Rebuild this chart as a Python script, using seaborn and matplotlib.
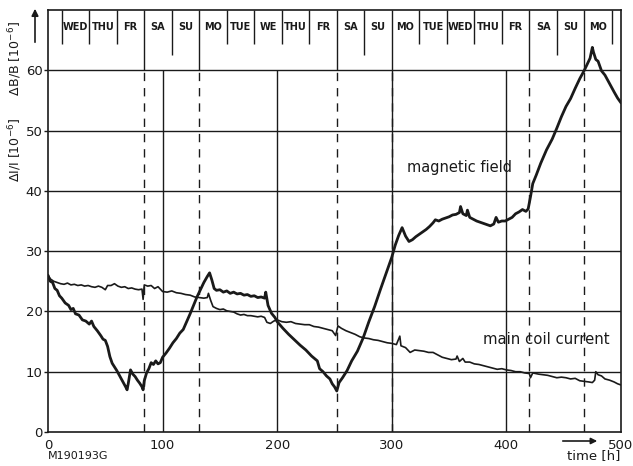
import numpy as np
import pandas as pd
import matplotlib
matplotlib.use("Agg")
import matplotlib.pyplot as plt
import seaborn as sns

# ---------------- data ----------------
field_t = [0, 2, 4, 6, 8, 10, 12, 15, 18, 20, 22, 24, 27, 30, 33, 36, 38, 40, 43, 46, 48, 50, 52, 54, 56,
           58, 60, 62, 64, 66, 68, 69, 70, 72, 74, 76, 78, 80, 82, 83, 84, 86, 88, 90, 92, 94, 96, 98,
           100, 103, 106, 109, 112, 115, 118, 121, 124, 127, 130, 133, 136, 139, 141, 143, 145, 147,
           150, 153, 156, 159, 162, 165, 168, 171, 174, 177, 180, 183, 186, 189, 190, 192, 195, 198,
           200, 205, 210, 215, 220, 225, 230, 235, 237, 240, 243, 246, 248, 250, 252, 254, 257, 261,
           265, 270, 275, 280, 285, 290, 295, 300, 303, 306, 309, 312, 315, 318, 321, 324, 327, 330,
           333, 336, 338, 341, 344, 347, 350, 353, 356, 359, 360, 362, 365, 366, 368, 371, 374, 377,
           380, 383, 386, 389, 391, 393, 396, 399, 402, 405, 408, 411, 414, 417, 419, 421, 423, 426,
           430, 435, 440, 444, 448, 452, 456, 460, 464, 468, 471, 473, 475, 476, 478, 480, 483, 486,
           490, 494, 497, 500]
field_v = [26.0, 25.0, 24.8, 23.8, 23.5, 22.6, 22.2, 21.4, 21.0, 20.3, 20.5, 19.6, 19.4, 18.6, 18.4, 17.9,
           18.4, 17.5, 16.8, 16.0, 15.4, 15.2, 14.2, 12.5, 11.4, 10.8, 10.2, 9.5, 8.8, 8.1, 7.4, 7.0,
           8.0, 10.3, 9.6, 9.2, 8.6, 8.1, 7.5, 7.0, 8.5, 9.8, 10.5, 11.5, 11.2, 11.8, 11.3, 11.5,
           12.4, 13.1, 13.9, 14.8, 15.5, 16.4, 17.0, 18.3, 19.6, 21.0, 22.4, 23.6, 24.8, 25.8, 26.4,
           25.2, 23.8, 23.5, 23.6, 23.2, 23.4, 23.0, 23.2, 22.9, 23.0, 22.7, 22.8, 22.5, 22.6, 22.3,
           22.4, 22.2, 23.2, 21.0, 19.7, 19.0, 18.3, 17.2, 16.2, 15.3, 14.4, 13.6, 12.6, 11.8, 10.5,
           10.0, 9.3, 8.8, 8.0, 7.5, 6.8, 8.2, 9.0, 10.2, 11.8, 13.4, 15.6, 18.3, 20.8, 23.6, 26.3,
           29.0, 31.0, 32.6, 33.9, 32.5, 31.6, 31.9, 32.4, 32.8, 33.2, 33.6, 34.1, 34.7, 35.2, 35.0,
           35.3, 35.5, 35.7, 36.0, 36.1, 36.4, 37.4, 36.2, 35.9, 36.8, 35.6, 35.3, 35.0, 34.8, 34.6,
           34.4, 34.2, 34.5, 35.6, 34.8, 35.0, 35.0, 35.3, 35.6, 36.2, 36.5, 36.9, 36.6, 37.0, 39.0,
           41.2, 42.6, 44.6, 46.8, 48.6, 50.4, 52.3, 54.0, 55.3, 57.0, 58.6, 60.0, 61.2, 62.0, 63.8,
           63.0, 61.8, 61.5, 59.9, 59.2, 57.8, 56.4, 55.4, 54.6]

coil_t = [0, 2, 5, 8, 11, 14, 17, 20, 23, 26, 29, 32, 35, 38, 41, 44, 47, 50, 52, 55, 58, 61, 64, 67, 70,
          73, 76, 79, 82, 83, 84, 87, 90, 93, 96, 98, 100, 104, 108, 112, 116, 120, 124, 128, 132, 136,
          139, 140, 142, 144, 147, 150, 153, 156, 159, 162, 165, 168, 171, 174, 177, 180, 183, 186, 189,
          191, 194, 197, 200, 204, 208, 212, 216, 220, 224, 228, 232, 236, 240, 244, 248, 251, 253, 256,
          260, 264, 268, 272, 276, 280, 284, 288, 292, 296, 300, 304, 307, 308, 312, 316, 320, 324, 328,
          332, 336, 340, 344, 348, 352, 356, 357, 359, 362, 364, 368, 372, 376, 380, 384, 388, 392, 396,
          400, 404, 408, 412, 416, 420, 421, 423, 428, 432, 436, 440, 444, 448, 452, 456, 460, 464, 468,
          472, 475, 477, 478, 480, 483, 486, 490, 494, 497, 500]
coil_v = [26.0, 25.4, 25.0, 24.8, 24.6, 24.5, 24.7, 24.4, 24.5, 24.3, 24.4, 24.2, 24.3, 24.1, 24.0, 24.2,
          24.0, 23.6, 24.3, 24.3, 24.6, 24.2, 24.0, 24.1, 23.8, 23.9, 23.7, 23.6, 23.7, 22.0, 24.4,
          24.2, 24.3, 23.8, 24.1, 23.7, 23.3, 23.2, 23.4, 23.1, 23.0, 22.8, 22.7, 22.4, 22.3, 22.2,
          22.3, 23.0, 21.8, 20.8, 20.5, 20.3, 20.4, 20.1, 20.0, 19.9, 19.6, 19.4, 19.5, 19.3, 19.3,
          19.2, 19.1, 19.2, 19.0, 18.2, 18.0, 18.4, 18.6, 18.3, 18.2, 18.3, 18.0, 17.9, 17.8, 17.8,
          17.5, 17.4, 17.2, 17.0, 16.8, 16.0, 17.6, 17.2, 16.8, 16.5, 16.2, 15.8, 15.6, 15.5, 15.3,
          15.2, 15.0, 14.8, 14.7, 14.5, 15.9, 14.3, 14.0, 13.2, 13.6, 13.5, 13.4, 13.2, 13.2, 12.8,
          12.4, 12.2, 12.0, 12.1, 12.6, 11.7, 12.2, 11.6, 11.6, 11.3, 11.2, 11.0, 10.8, 10.6, 10.4,
          10.5, 10.3, 10.2, 10.0, 10.0, 9.8, 9.7, 9.0, 9.8, 9.6, 9.5, 9.4, 9.2, 9.0, 9.1, 9.0, 8.8,
          8.9, 8.5, 8.4, 8.3, 8.2, 8.6, 10.0, 9.5, 9.3, 8.8, 8.6, 8.3, 8.0, 7.8]

day_labels = ["WED", "THU", "FR", "SA", "SU", "MO", "TUE", "WE", "THU", "FR",
              "SA", "SU", "MO", "TUE", "WED", "THU", "FR", "SA", "SU", "MO"]
day_starts = [12, 36, 60, 84, 108, 132, 156, 180, 204, 228,
              252, 276, 300, 324, 348, 372, 396, 420, 444, 468]
day_end = 492
weekend_lines = [84, 132, 252, 300, 420, 468]     # Saturday / Monday start
sunday_lines = [108, 276, 444]

x_ticks = [0, 100, 200, 300, 400, 500]
y_ticks = [0, 10, 20, 30, 40, 50, 60]

# ---------------- figure ----------------
sns.set_style("white")
plt.rcParams['font.family'] = ['DejaVu Sans']
ink = "#1a1a1a"

fig = plt.figure(figsize=(6.33, 4.66), dpi=100)
ax = fig.add_axes([48 / 633, 1 - 432 / 466, (621 - 48) / 633, (432 - 10) / 466])

df = pd.concat([
    pd.DataFrame({"t": field_t, "v": field_v, "s": "magnetic field"}),
    pd.DataFrame({"t": coil_t, "v": coil_v, "s": "main coil current"}),
])
sns.lineplot(data=df[df.s == "main coil current"], x="t", y="v", ax=ax, color=ink, lw=1.2,
             estimator=None, sort=False, legend=False)
sns.lineplot(data=df[df.s == "magnetic field"], x="t", y="v", ax=ax, color=ink, lw=2.0,
             estimator=None, sort=False, legend=False)

ax.set_xlim(0, 500)
ax.set_ylim(0, 70)

# grid inside the data region only
ax.hlines(y_ticks[1:], 0, 500, color=ink, lw=1.0, zorder=1)
ax.vlines(x_ticks[1:-1], 0, 60, color=ink, lw=1.0, zorder=1)

# weekend dashed lines
ax.vlines(weekend_lines, 0, 60, color=ink, lw=1.0, linestyles=(0, (6, 5)), zorder=1)

# header day separators
all_bounds = day_starts + [day_end]
for b in all_bounds:
    if b in weekend_lines:
        lo = 60
    elif b in sunday_lines:
        lo = 62.6
    else:
        lo = 64.4
    ax.vlines(b, lo, 70, color=ink, lw=1.0)
for s, lab in zip(day_starts, day_labels):
    ax.text(s + 12, 67.2, lab, ha="center", va="center", fontsize=7, color=ink,
            fontweight="semibold")

for sp in ax.spines.values():
    sp.set_color(ink)
    sp.set_linewidth(1.2)

ax.set_xticks(x_ticks)
ax.set_xticklabels(["0", "100", "200", "300", "400", "500"])
ax.set_yticks(y_ticks)
ax.tick_params(axis="x", length=0, pad=5, labelsize=9.5, colors=ink)
ax.tick_params(axis="y", length=3, width=1, direction="out", pad=1, labelsize=9.5, colors=ink, left=True)
ax.set_xlabel("")
ax.set_ylabel("")

ax.text(313, 43.9, "magnetic field", fontsize=10.5, color=ink, va="center")
ax.text(380, 15.3, "main coil current", fontsize=10.7, color=ink, va="center")

# y label and arrow
fig.text(15 / 633, 1 - 102 / 466, r"$\Delta$I/I [10$^{-6}$]      $\Delta$B/B [10$^{-6}$]",
         rotation=90, ha="center", va="center", fontsize=9, color=ink)
fig.add_artist(matplotlib.patches.FancyArrowPatch((35 / 633, 1 - 45 / 466), (35 / 633, 1 - 6 / 466),
                                                  transform=fig.transFigure, arrowstyle="-|>",
                                                  mutation_scale=10, color=ink, lw=1.2))

# bottom annotations
fig.text(48 / 633, 1 - 456 / 466, "M190193G", fontsize=8, color=ink, ha="left", va="center")
fig.text(620 / 633, 1 - 456 / 466, "time [h]", fontsize=9.5, color=ink, ha="right", va="center")
fig.add_artist(matplotlib.patches.FancyArrowPatch((560 / 633, 1 - 441 / 466), (600 / 633, 1 - 441 / 466),
                                                  transform=fig.transFigure, arrowstyle="-|>",
                                                  mutation_scale=9, color=ink, lw=1.2))

fig.savefig("out.png", dpi=100)
